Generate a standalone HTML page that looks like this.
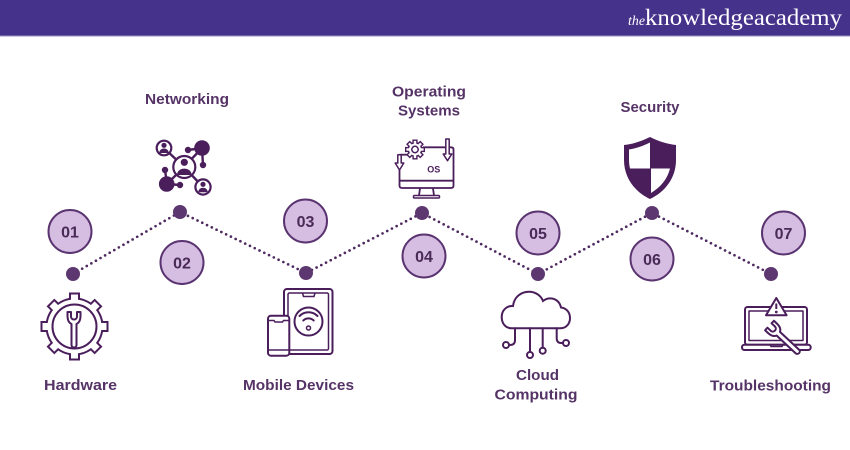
<!DOCTYPE html>
<html>
<head>
<meta charset="utf-8">
<style>
  html,body{margin:0;padding:0;background:#fff;}
  body{width:850px;height:450px;overflow:hidden;}
  svg{display:block;}
  .lbl{font-family:"Liberation Sans",sans-serif;font-weight:bold;font-size:14.5px;fill:#553366;}
  .num{font-family:"Liberation Sans",sans-serif;font-weight:bold;font-size:16px;fill:#4a2a57;}
</style>
</head>
<body>
<svg width="850" height="450" viewBox="0 0 850 450" xmlns="http://www.w3.org/2000/svg">
  <!-- header -->
  <rect x="0" y="0" width="850" height="35.5" fill="#45328a"/>
  <rect x="0" y="35.5" width="850" height="1" fill="#9a90c0"/>
  <text x="628" y="25" font-family="Liberation Serif, serif" font-style="italic" font-size="14" fill="#fff" textLength="17" lengthAdjust="spacingAndGlyphs">the</text>
  <text x="645" y="25" font-family="Liberation Serif, serif" font-size="23" fill="#fff" textLength="197" lengthAdjust="spacingAndGlyphs">knowledgeacademy</text>

  <!-- dotted connectors -->
  <polyline points="73,274 180,212 306,273 422,213 538,274 652,213 771,274" fill="none" stroke="#4e2a60" stroke-width="2.7" stroke-linecap="round" stroke-dasharray="0 5.3"/>

  <!-- big dots -->
  <g fill="#5d3870">
    <circle cx="73" cy="274" r="7"/>
    <circle cx="180" cy="212" r="7"/>
    <circle cx="306" cy="273" r="7"/>
    <circle cx="422" cy="213" r="7"/>
    <circle cx="538" cy="274" r="7"/>
    <circle cx="652" cy="213" r="7"/>
    <circle cx="771" cy="274" r="7"/>
  </g>

  <!-- number circles -->
  <g fill="#d6bde2" stroke="#5a3470" stroke-width="2">
    <circle cx="70" cy="231.5" r="21.5"/>
    <circle cx="182" cy="262.5" r="21.5"/>
    <circle cx="305.5" cy="221" r="21.5"/>
    <circle cx="424" cy="256" r="21.5"/>
    <circle cx="538" cy="233" r="21.5"/>
    <circle cx="652" cy="259" r="21.5"/>
    <circle cx="783.5" cy="233" r="21.5"/>
  </g>
  <g class="num" text-anchor="middle">
    <text x="70" y="237.5">01</text>
    <text x="182" y="268.5">02</text>
    <text x="305.5" y="227">03</text>
    <text x="424" y="262">04</text>
    <text x="538" y="239">05</text>
    <text x="652" y="265">06</text>
    <text x="783.5" y="239">07</text>
  </g>

  <!-- labels -->
  <g class="lbl" text-anchor="middle">
    <text x="80.5" y="390" textLength="73" lengthAdjust="spacingAndGlyphs">Hardware</text>
    <text x="187" y="104" textLength="84" lengthAdjust="spacingAndGlyphs">Networking</text>
    <text x="298.5" y="390" textLength="111" lengthAdjust="spacingAndGlyphs">Mobile Devices</text>
    <text x="429" y="96.5" textLength="74" lengthAdjust="spacingAndGlyphs">Operating</text>
    <text x="429" y="115.5" textLength="62" lengthAdjust="spacingAndGlyphs">Systems</text>
    <text x="537.5" y="380" textLength="43" lengthAdjust="spacingAndGlyphs">Cloud</text>
    <text x="536" y="399.5" textLength="83" lengthAdjust="spacingAndGlyphs">Computing</text>
    <text x="650" y="112" textLength="59" lengthAdjust="spacingAndGlyphs">Security</text>
    <text x="770.5" y="390.5" textLength="121" lengthAdjust="spacingAndGlyphs">Troubleshooting</text>
  </g>

  <!-- ===== Hardware gear icon ===== -->
  <g transform="translate(74.5,326.5)">
    <g fill="#4a1d5b">
      <circle r="29"/>
      <rect x="-5.5" y="-34" width="11" height="10" transform="rotate(0)"/>
      <rect x="-5.5" y="-34" width="11" height="10" transform="rotate(45)"/>
      <rect x="-5.5" y="-34" width="11" height="10" transform="rotate(90)"/>
      <rect x="-5.5" y="-34" width="11" height="10" transform="rotate(135)"/>
      <rect x="-5.5" y="-34" width="11" height="10" transform="rotate(180)"/>
      <rect x="-5.5" y="-34" width="11" height="10" transform="rotate(225)"/>
      <rect x="-5.5" y="-34" width="11" height="10" transform="rotate(270)"/>
      <rect x="-5.5" y="-34" width="11" height="10" transform="rotate(315)"/>
    </g>
    <g fill="#fff">
      <circle r="27"/>
      <rect x="-3.5" y="-32" width="7" height="9" transform="rotate(0)"/>
      <rect x="-3.5" y="-32" width="7" height="9" transform="rotate(45)"/>
      <rect x="-3.5" y="-32" width="7" height="9" transform="rotate(90)"/>
      <rect x="-3.5" y="-32" width="7" height="9" transform="rotate(135)"/>
      <rect x="-3.5" y="-32" width="7" height="9" transform="rotate(180)"/>
      <rect x="-3.5" y="-32" width="7" height="9" transform="rotate(225)"/>
      <rect x="-3.5" y="-32" width="7" height="9" transform="rotate(270)"/>
      <rect x="-3.5" y="-32" width="7" height="9" transform="rotate(315)"/>
    </g>
    <circle r="22" fill="none" stroke="#4a1d5b" stroke-width="2"/>
  </g>
  <path transform="translate(74,312)" d="M-2.5,33 L-2.5,12 C-6,10.5 -6.5,7 -6.5,4 L-6.5,0 L-3,0 L-3,4.5 A3,3 0 0 0 3,4.5 L3,0 L6.5,0 L6.5,4 C6.5,7 6,10.5 2.5,12 L2.5,33 A2.5,2.5 0 0 1 -2.5,33 Z" fill="#fff" stroke="#4a1d5b" stroke-width="2" stroke-linejoin="round"/>

  <!-- ===== Networking icon ===== -->
  <g stroke="#4a1d5b" stroke-width="2.4">
    <line x1="184" y1="167" x2="164" y2="148"/>
    <line x1="184" y1="167" x2="203" y2="187"/>
    <line x1="184" y1="167" x2="202" y2="148"/>
    <line x1="184" y1="167" x2="167" y2="184"/>
    <line x1="202" y1="148" x2="188" y2="150"/>
    <line x1="202" y1="148" x2="203" y2="165"/>
    <line x1="167" y1="184" x2="165" y2="170"/>
    <line x1="167" y1="184" x2="180" y2="185"/>
  </g>
  <g fill="#4a1d5b">
    <circle cx="202" cy="148" r="7.8"/>
    <circle cx="166.7" cy="184" r="7.8"/>
    <circle cx="188" cy="150" r="3.2"/>
    <circle cx="203" cy="165" r="3.2"/>
    <circle cx="165" cy="170" r="3.2"/>
    <circle cx="180" cy="185" r="3.2"/>
  </g>
  <g fill="#fff" stroke="#4a1d5b" stroke-width="2.2">
    <circle cx="184.3" cy="167" r="11"/>
    <circle cx="164" cy="148" r="7.3"/>
    <circle cx="203" cy="187" r="7.6"/>
  </g>
  <g fill="#4a1d5b">
    <circle cx="184.3" cy="162.3" r="3.6"/>
    <path d="M177,175 C177,166.5 191.6,166.5 191.6,175 Z"/>
    <circle cx="164" cy="145.3" r="2.6"/>
    <path d="M159.3,153 C159.3,147 168.7,147 168.7,153 Z"/>
    <circle cx="203" cy="184.3" r="2.6"/>
    <path d="M198.3,192.3 C198.3,186.3 207.7,186.3 207.7,192.3 Z"/>
  </g>

  <!-- ===== Mobile devices icon ===== -->
  <g fill="none" stroke="#4a1d5b">
    <rect x="284" y="289" width="48.5" height="65" rx="3" stroke-width="2" fill="#fff"/>
    <rect x="288" y="293" width="40.5" height="57" rx="1.5" stroke-width="1.5"/>
    <path d="M302.5,293 L303.5,296.5 L314,296.5 L315,293" stroke-width="1.5"/>
    <circle cx="308.5" cy="321.5" r="14" stroke-width="2"/>
    <path d="M299.5,316 A12.7,12.7 0 0 1 317.5,316" stroke-width="2" stroke-linecap="round"/>
    <path d="M303.3,320.5 A7.4,7.4 0 0 1 313.7,320.5" stroke-width="2" stroke-linecap="round"/>
    <circle cx="308.5" cy="328" r="2" stroke-width="1.5"/>
    <rect x="268" y="315.7" width="21.3" height="40" rx="3" stroke-width="2" fill="#fff"/>
    <path d="M268,320.5 L274,320.5 L275,322 L282.5,322 L283.5,320.5 L289.3,320.5" stroke-width="1.5"/>
    <line x1="268" y1="350" x2="289.3" y2="350" stroke-width="1.5"/>
  </g>

  <!-- ===== OS icon ===== -->
  <g fill="none" stroke="#4a1d5b" stroke-width="1.8" stroke-linejoin="round">
    <path d="M399.5,170 L399.5,185.5 Q399.5,188 402,188 L451,188 Q453.5,188 453.5,185.5 L453.5,149.5 Q453.5,147.3 451,147.3 L423,147.3"/>
    <line x1="399.5" y1="180.7" x2="453.5" y2="180.7"/>
    <path d="M407,154.7 L399.5,154.7"/>
    <path d="M397.8,154.7 L401.2,154.7 L401.2,163 L403.8,163 L399.5,170 L395.2,163 L397.8,163 Z" fill="#fff" stroke-width="1.5"/>
    <path d="M445.8,139 L449.2,139 L449.2,154 L451.8,154 L447.5,160.7 L443.2,154 L445.8,154 Z" fill="#fff" stroke-width="1.5"/>
    <path d="M420,188.5 L419,195.5 M433,188.5 L434,195.5"/>
    <rect x="413.5" y="195.5" width="26" height="2.5" rx="1" stroke-width="1.5"/>
  </g>
  <g transform="translate(415,149.5)">
    <g fill="#4a1d5b">
      <circle r="7.5"/>
      <rect x="-2.6" y="-10" width="5.2" height="4" transform="rotate(0)"/>
      <rect x="-2.6" y="-10" width="5.2" height="4" transform="rotate(45)"/>
      <rect x="-2.6" y="-10" width="5.2" height="4" transform="rotate(90)"/>
      <rect x="-2.6" y="-10" width="5.2" height="4" transform="rotate(135)"/>
      <rect x="-2.6" y="-10" width="5.2" height="4" transform="rotate(180)"/>
      <rect x="-2.6" y="-10" width="5.2" height="4" transform="rotate(225)"/>
      <rect x="-2.6" y="-10" width="5.2" height="4" transform="rotate(270)"/>
      <rect x="-2.6" y="-10" width="5.2" height="4" transform="rotate(315)"/>
    </g>
    <g fill="#fff">
      <circle r="6"/>
      <rect x="-1.2" y="-8.6" width="2.4" height="3.5" transform="rotate(0)"/>
      <rect x="-1.2" y="-8.6" width="2.4" height="3.5" transform="rotate(45)"/>
      <rect x="-1.2" y="-8.6" width="2.4" height="3.5" transform="rotate(90)"/>
      <rect x="-1.2" y="-8.6" width="2.4" height="3.5" transform="rotate(135)"/>
      <rect x="-1.2" y="-8.6" width="2.4" height="3.5" transform="rotate(180)"/>
      <rect x="-1.2" y="-8.6" width="2.4" height="3.5" transform="rotate(225)"/>
      <rect x="-1.2" y="-8.6" width="2.4" height="3.5" transform="rotate(270)"/>
      <rect x="-1.2" y="-8.6" width="2.4" height="3.5" transform="rotate(315)"/>
    </g>
    <circle r="3.2" fill="none" stroke="#4a1d5b" stroke-width="1.5"/>
  </g>
  <text x="433.7" y="172.3" text-anchor="middle" font-family="Liberation Sans, sans-serif" font-weight="bold" font-size="9" fill="#4a1d5b">OS</text>

  <!-- ===== Cloud icon ===== -->
  <g fill="none" stroke="#4a1d5b" stroke-width="2" stroke-linecap="round">
    <path d="M512,328.3 C505,328.3 501.7,323 501.7,317 C501.7,310 507,305.5 513,306 C514,297 521,291.7 529,291.7 C536,291.7 541,296 543,301 C546,298.5 549,298 552,298.5 C557,299.5 560,303 561,307.5 C566,308 570,312 570,318 C570,324 566,328.3 560,328.3 Z"/>
    <path d="M515,328.3 L515,340 Q515,345 510,345 L509,345"/>
    <line x1="530" y1="328.3" x2="530" y2="352"/>
    <line x1="542.7" y1="328.3" x2="542.7" y2="347.7"/>
    <path d="M556.7,328.3 L556.7,338 Q556.7,343 561,343 L563,343"/>
    <circle cx="506" cy="345" r="3"/>
    <circle cx="530" cy="355" r="3"/>
    <circle cx="542.7" cy="350.7" r="3"/>
    <circle cx="566" cy="343" r="3"/>
  </g>

  <!-- ===== Security shield ===== -->
  <defs>
    <clipPath id="shin">
      <path d="M650,142.5 C658,146.5 665,148.5 671,149.5 L671,160 C671,175 662,187 650,193.5 C638,187 629,175 629,160 L629,149.5 C635,148.5 642,146.5 650,142.5 Z"/>
    </clipPath>
  </defs>
  <path d="M650,137 C660,142 668,144 676,145 L676,160 C676,178 665,192 650,199 C635,192 624,178 624,160 L624,145 C632,144 640,142 650,137 Z" fill="#4a1d5b"/>
  <g clip-path="url(#shin)" fill="#fff">
    <rect x="620" y="135" width="30" height="33.5"/>
    <rect x="651" y="168.5" width="30" height="35"/>
  </g>

  <!-- ===== Troubleshooting icon ===== -->
  <g fill="none" stroke="#4a1d5b" stroke-linejoin="round">
    <rect x="745" y="307" width="62" height="37.7" rx="2.5" stroke-width="2"/>
    <rect x="749" y="311" width="54" height="29.5" stroke-width="1.5"/>
    <rect x="742" y="344.7" width="68.7" height="5.3" rx="2.5" stroke-width="2" fill="#fff"/>
    <path d="M770,344.7 L771,346.5 L782,346.5 L783,344.7" stroke-width="1.5"/>
    <path d="M776.3,298 L786.6,315.3 L766,315.3 Z" stroke-width="2" fill="#fff"/>
    <line x1="776.3" y1="303.5" x2="776.3" y2="309" stroke-width="2"/>
    <circle cx="776.3" cy="312" r="0.6" stroke-width="1.6"/>
  </g>
  <path transform="translate(769.5,325.5) rotate(-47)" d="M-2.5,38 L-2.5,12 C-6,10.5 -6.5,7 -6.5,4 L-6.5,0 L-3,0 L-3,4.5 A3,3 0 0 0 3,4.5 L3,0 L6.5,0 L6.5,4 C6.5,7 6,10.5 2.5,12 L2.5,38 A2.5,2.5 0 0 1 -2.5,38 Z" fill="#fff" stroke="#4a1d5b" stroke-width="2" stroke-linejoin="round"/>
</svg>
</body>
</html>
